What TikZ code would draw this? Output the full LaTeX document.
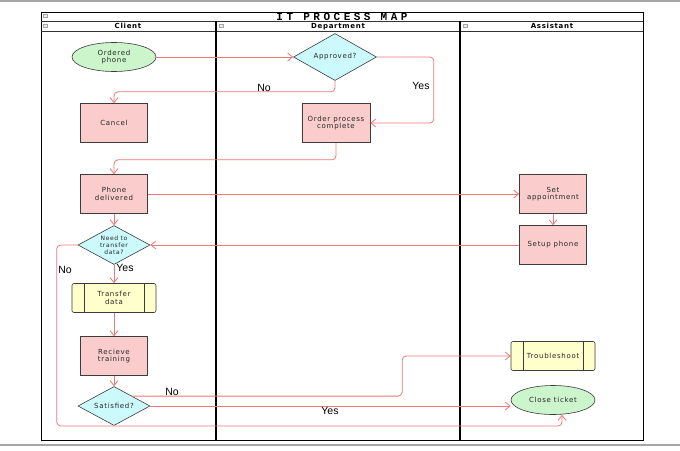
\documentclass[tikz,border=0pt]{standalone}
\usepackage{fontspec}
\setmainfont{DejaVu Sans}
\newfontfamily\boxfont[LetterSpace=10]{DejaVu Sans}
\newfontfamily\labelfont{Liberation Sans}
\newfontfamily\titlefont[LetterSpace=32]{Liberation Mono}
\usetikzlibrary{shapes.geometric, arrows.meta}

\definecolor{flowred}{RGB}{240,120,120}
\definecolor{startgreen}{RGB}{204,245,204}
\definecolor{taskpink}{RGB}{250,204,204}
\definecolor{askcyan}{RGB}{204,250,252}
\definecolor{subyellow}{RGB}{255,255,204}
\definecolor{shapeline}{RGB}{60,60,60}

\tikzset{
	boxtext/.style  = {align=center, text=black!85, font=\boxfont\fontsize{7}{7.5}\selectfont},
	startend/.style = {boxtext, ellipse, draw=shapeline, fill=startgreen, minimum width=84pt, minimum height=29pt, inner sep=0pt},
	task/.style     = {boxtext, rectangle, draw=shapeline, fill=taskpink, minimum width=67pt, minimum height=39pt, inner sep=2pt},
	ask/.style      = {boxtext, diamond, aspect=1.85, draw=shapeline, fill=askcyan, minimum width=72pt, minimum height=39pt, inner sep=0pt},
	subproc/.style  = {boxtext, rectangle, rounded corners=2pt, draw=shapeline, fill=subyellow, minimum width=84pt, minimum height=29pt,
		path picture={
			\draw[shapeline] ([xshift= 12pt]path picture bounding box.north west) -- ([xshift= 12pt]path picture bounding box.south west);
			\draw[shapeline] ([xshift=-12pt]path picture bounding box.north east) -- ([xshift=-12pt]path picture bounding box.south east);
		}},
	flow/.style     = {draw=flowred, line width=0.8pt, rounded corners=4pt, -{Straight Barb[length=5pt,width=8pt]}},
	answer/.style   = {font=\labelfont\fontsize{10.5}{11}\selectfont, inner sep=1pt},
	lanehead/.style = {font=\boxfont\bfseries\fontsize{7}{8}\selectfont, inner sep=0pt},
	collapse/.style = {draw=gray!70, fill=gray!15, line width=0.4pt, minimum width=4.5pt, minimum height=3pt, inner sep=0pt},
}

\begin{document}
\begin{tikzpicture}[x=1pt, y=-1pt, line width=0.6pt]

	\fill[white] (0,0) rectangle (680,450);
	\useasboundingbox (0,0) rectangle (680,450);
	\draw[gray!70, line width=1.5pt] (0,1) -- (680,1);
	\draw[gray!70, line width=1.5pt] (0,445) -- (680,445);

	% frame and lanes
	\draw[black, line width=0.8pt] (41,12) rectangle (643,440);
	\draw[black!80] (41,21) -- (643,21);
	\draw[black!80] (41,31) -- (643,31);
	\draw[black, line width=1.2pt] (216,21) -- (216,440);
	\draw[black, line width=1.2pt] (460,21) -- (460,440);

	\node[font=\titlefont\bfseries\fontsize{11}{11}\selectfont, inner sep=0pt] (title) at (342,16.8) {IT PROCESS MAP};
	\node[lanehead] (client)     at (128,26.3) {Client};
	\node[lanehead] (department) at (338,26.3) {Department};
	\node[lanehead] (assistant)  at (552,26.3) {Assistant};
	\node[collapse] (c0) at ( 45,16) {};
	\node[collapse] (c1) at ( 45,25.5) {};
	\node[collapse] (c2) at (221,25.5) {};
	\node[collapse] (c3) at (465,25.5) {};

	% client
	\node[startend]                                   (ordered)   at (114, 57) {Ordered\\phone};
	\node[task]                                       (cancel)    at (114,123) {Cancel};
	\node[task]                                       (delivered) at (114,194) {Phone\\delivered};
	\node[ask, font=\boxfont\fontsize{6}{7}\selectfont] (needdata)  at (114,245) {Need to\\transfer\\data?};
	\node[subproc]                                    (transfer)  at (114,298) {Transfer\\data};
	\node[task]                                       (training)  at (114,356) {Recieve\\training};
	\node[ask]                                        (satisfied) at (114,406) {Satisfied?};

	% department
	\node[ask, minimum width=83pt, minimum height=47pt] (approved) at (335, 57) {Approved?};
	\node[task, minimum width=68pt]                     (complete) at (336,123) {Order process\\complete};

	% assistant
	\node[task]     (appointment) at (553,194) {Set\\appointment};
	\node[task]     (setup)       at (553,245) {Setup phone};
	\node[subproc]  (trouble)     at (553,356) {Troubleshoot};
	\node[startend] (close)       at (553,400) {Close ticket};

	\draw[flow] (ordered) -- (approved);
	\draw[flow] (approved.south) -- ++(0,11) -| (cancel.north);
	\draw[flow] (approved.east) -- ++(57,0) |- (complete.east);
	\draw[flow] (complete.south) -- ++(0,17) -| (delivered.north);
	\draw[flow] (delivered) -- (appointment);
	\draw[flow] (appointment) -- (setup);
	\draw[flow] (setup) -- (needdata);
	\draw[flow] (delivered) -- (needdata);
	\draw[flow] (needdata) -- (transfer);
	\draw[flow] (transfer) -- (training);
	\draw[flow] (training) -- (satisfied);
	\draw[flow] (satisfied.north east) -- ++(270,0) |- (trouble.west);
	\draw[flow] (satisfied.east) -- (satisfied.east -| close.west);
	\draw[flow] (needdata.west) -- ++(-21,0) -- ++(0,181) -| ([xshift=9pt]close.south);

	\node[answer] (noapproved)  at (264, 88) {No};
	\node[answer] (yesapproved) at (421, 86) {Yes};
	\node[answer] (yesneed)     at (125,268) {Yes};
	\node[answer] (noneed)      at ( 65,270) {No};
	\node[answer] (nosatisfied) at (172,392) {No};
	\node[answer] (yessatisfied) at (330,411) {Yes};
\end{tikzpicture}
\end{document}
